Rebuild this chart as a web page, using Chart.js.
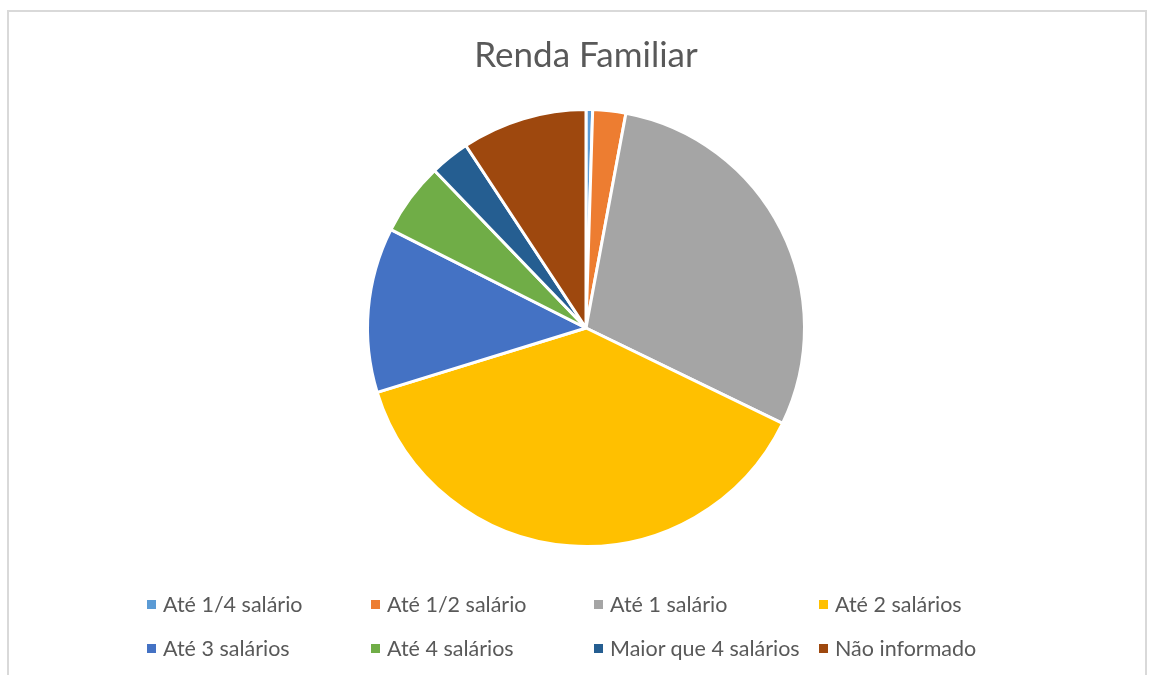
<!DOCTYPE html>
<html lang="pt">
  <head>
    <meta charset="UTF-8" />
    <title>Renda Familiar</title>
    <style>
      body { margin: 0; background: #fff; font-family: Lato, "Open Sans", sans-serif; }
      .frame {
        position: absolute; left: 7px; top: 10px; width: 1140px; height: 700px;
        border: 2px solid #d9d9d9; box-sizing: border-box;
      }
      .chart-container { position: absolute; left: 0; top: 0; width: 1155px; height: 675px; }
      .legend-item {
        position: absolute; display: flex; align-items: center;
        font-size: 21.5px; color: #595959; white-space: nowrap; height: 24px;
      }
      .legend-item i { display: inline-block; width: 9px; height: 9px; margin-right: 7px; }
    </style>
  </head>
  <body>
    <div class="frame"></div>
    <div class="chart-container">
      <canvas id="pie"></canvas>
    </div>
    <div id="legend"></div>

    <script src="https://cdn.jsdelivr.net/npm/chart.js"></script>
    <script>
      const labels = [
        "Até 1/4 salário",
        "Até 1/2 salário",
        "Até 1 salário",
        "Até 2 salários",
        "Até 3 salários",
        "Até 4 salários",
        "Maior que 4 salários",
        "Não informado",
      ];
      const values = [1, 5, 60, 78, 25, 11, 6, 19];
      const colors = [
        "#5B9BD5", "#ED7D31", "#A5A5A5", "#FFC000",
        "#4472C4", "#70AD47", "#255E91", "#9E480E",
      ];

      new Chart(document.getElementById("pie"), {
        type: "pie",
        data: {
          labels,
          datasets: [
            {
              label: "Renda Familiar",
              data: values,
              backgroundColor: colors,
              borderColor: "#ffffff",
              borderWidth: 3,
            },
          ],
        },
        options: {
          responsive: true,
          maintainAspectRatio: false,
          animation: false,
          layout: { padding: { left: 17, right: 0, top: 0, bottom: 127 } },
          plugins: {
            legend: { display: false },
            tooltip: { enabled: false },
            title: {
              display: true,
              text: "Renda Familiar",
              color: "#595959",
              font: { family: "Lato", size: 35, weight: "normal" },
              padding: { top: 35, bottom: 31 },
            },
          },
        },
      });

      // legend in Excel-like columns
      const colX = [147, 371, 594, 819];
      const rowY = [604, 648];
      const legend = document.getElementById("legend");
      labels.forEach((text, i) => {
        const el = document.createElement("div");
        el.className = "legend-item";
        el.style.left = colX[i % 4] + "px";
        el.style.top = rowY[Math.floor(i / 4)] - 12 + "px";
        el.innerHTML = `<i style="background:${colors[i]}"></i>${text}`;
        legend.appendChild(el);
      });
    </script>
  </body>
</html>
